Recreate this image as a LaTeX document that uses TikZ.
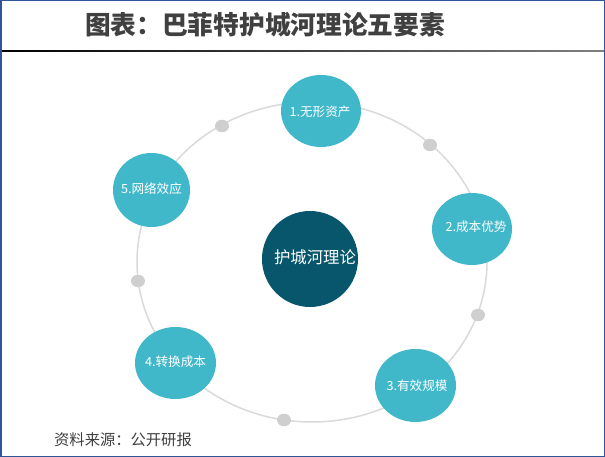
\documentclass[tikz,border=0pt]{standalone}
\usepackage{fontspec}
\setmainfont{Noto Sans CJK SC}
\usetikzlibrary{shapes.geometric}
\definecolor{tealfill}{HTML}{40B8C9}
\definecolor{deepfill}{HTML}{07566C}
\definecolor{ringc}{HTML}{DADADA}
\definecolor{dotc}{HTML}{CFCFCF}
\definecolor{framec}{HTML}{2F5597}
\definecolor{textc}{HTML}{404040}
\newcommand{\lab}[3]{\makebox[0pt]{\hspace*{#1}\raisebox{#2}[0pt][0pt]{\raisebox{-0.36em}{#3}}}}
\tikzset{
  item/.style={ellipse,fill=tealfill,text=white,font=\fontsize{12.6}{14}\selectfont,inner sep=0pt},
  dot/.style={ellipse,fill=dotc,inner sep=0pt,minimum width=14pt,minimum height=12.5pt},
}
\begin{document}
\begin{tikzpicture}[x=1pt,y=-1pt]
\useasboundingbox (0,0) rectangle (605,457);
\fill[white] (0,0) rectangle (605,457);
\draw[ringc,line width=1.5pt] (312,262) ellipse [x radius=175,y radius=160];
\node[dot] (d1) at (222,126) {};
\node[dot] (d2) at (430,145) {};
\node[dot] (d3) at (478,315) {};
\node[dot] (d4) at (284,420) {};
\node[dot] (d5) at (138,281) {};
\node[item,minimum width=80pt,minimum height=72pt] (n1) at (321,111) {\lab{-2pt}{-1pt}{1.无形资产}};
\node[item,minimum width=80pt,minimum height=72pt] (n2) at (472,229) {\lab{8pt}{2pt}{2.成本优势}};
\node[item,minimum width=81pt,minimum height=73pt] (n3) at (415.5,385.5) {\lab{3pt}{0pt}{3.有效规模}};
\node[item,minimum width=81pt,minimum height=72pt] (n4) at (175.5,363) {\lab{0pt}{1pt}{4.转换成本}};
\node[item,minimum width=77pt,minimum height=74pt] (n5) at (151.5,190) {\lab{0pt}{1pt}{5.网络效应}};
\node[ellipse,fill=deepfill,text=white,font=\fontsize{16.4}{18}\selectfont,inner sep=0pt,minimum width=96pt,minimum height=96pt] (c) at (310,259) {\lab{10pt}{1pt}{护城河理论}};
\node[font=\fontsize{25.7}{28}\selectfont\bfseries,text=textc,anchor=center,inner sep=0pt] (title) at (265,24.5) {图表：巴菲特护城河理论五要素};
\node[font=\fontsize{15.3}{18}\selectfont,text=textc,anchor=center,inner sep=0pt] (src) at (123,440) {资料来源：公开研报};
\shade[left color=black,right color=gray] (1,50.3) rectangle (604,51.8);
\draw[framec,line width=1.5pt] (0.75,0.75) rectangle (604.25,456.25);
\end{tikzpicture}
\end{document}
